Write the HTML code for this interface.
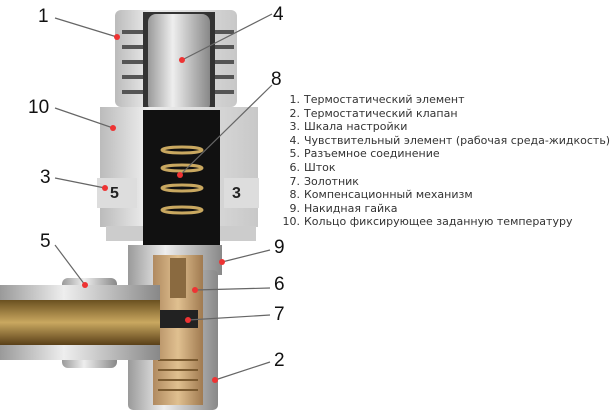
<!DOCTYPE html>
<html><head><meta charset="utf-8"><style>
body{margin:0;width:616px;height:410px;background:#fff;overflow:hidden;position:relative}
svg{position:absolute;left:0;top:0}
.lg{position:absolute;left:280px;top:93px;font:11px "DejaVu Sans",sans-serif;color:#333;line-height:13.6px;white-space:nowrap}
.lg span{display:inline-block;width:20px;text-align:right;margin-right:4px}
</style></head><body>
<svg width="616" height="410" viewBox="0 0 616 410">
<defs>
<linearGradient id="sil" x1="0" x2="1"><stop offset="0" stop-color="#9a9a9a"/><stop offset=".4" stop-color="#eee"/><stop offset="1" stop-color="#888"/></linearGradient>
<linearGradient id="wh" x1="0" x2="1"><stop offset="0" stop-color="#bbb"/><stop offset=".3" stop-color="#eee"/><stop offset="1" stop-color="#c8c8c8"/></linearGradient>
<linearGradient id="br" x1="0" y1="0" x2="0" y2="1"><stop offset="0" stop-color="#6a5020"/><stop offset=".5" stop-color="#c9a860"/><stop offset="1" stop-color="#5a4018"/></linearGradient>
<linearGradient id="br2" x1="0" x2="1"><stop offset="0" stop-color="#b08a60"/><stop offset=".5" stop-color="#e0c090"/><stop offset="1" stop-color="#a07a50"/></linearGradient>
</defs>
<!-- head -->
<rect x="115" y="10" width="122" height="97" rx="6" fill="url(#wh)"/>
<g fill="#555">
<rect x="122" y="30" width="22" height="4"/><rect x="122" y="45" width="22" height="4"/><rect x="122" y="60" width="22" height="4"/><rect x="122" y="75" width="22" height="4"/><rect x="122" y="90" width="22" height="4"/>
<rect x="212" y="30" width="22" height="4"/><rect x="212" y="45" width="22" height="4"/><rect x="212" y="60" width="22" height="4"/><rect x="212" y="75" width="22" height="4"/><rect x="212" y="90" width="22" height="4"/>
</g>
<rect x="143" y="12" width="72" height="98" fill="#333"/>
<rect x="148" y="14" width="62" height="98" rx="8" fill="url(#sil)"/>
<!-- lower body -->
<rect x="100" y="107" width="158" height="120" fill="url(#wh)"/>
<rect x="106" y="226" width="150" height="15" fill="#ccc"/>
<rect x="97" y="178" width="40" height="30" fill="#ddd"/>
<rect x="224" y="178" width="35" height="30" fill="#ddd"/>
<text x="110" y="198" font-family="Liberation Sans" font-weight="bold" font-size="16" fill="#222">5</text>
<text x="232" y="198" font-family="Liberation Sans" font-weight="bold" font-size="16" fill="#222">3</text>
<rect x="143" y="110" width="77" height="135" fill="#111"/>
<g fill="none" stroke="#c9a860" stroke-width="3"><ellipse cx="182" cy="150" rx="20" ry="3"/><ellipse cx="182" cy="168" rx="20" ry="3"/><ellipse cx="182" cy="188" rx="20" ry="3"/><ellipse cx="182" cy="210" rx="20" ry="3"/></g>
<!-- nut -->
<rect x="128" y="245" width="94" height="30" fill="url(#sil)"/>
<!-- valve body -->
<rect x="128" y="270" width="90" height="140" rx="5" fill="url(#sil)"/>
<rect x="153" y="255" width="50" height="150" fill="url(#br2)"/>
<rect x="170" y="258" width="16" height="40" fill="#8a6a40"/>
<rect x="158" y="310" width="40" height="18" fill="#222"/>
<g stroke="#7a5a30" stroke-width="2"><line x1="158" y1="360" x2="198" y2="360"/><line x1="158" y1="370" x2="198" y2="370"/><line x1="158" y1="380" x2="198" y2="380"/><line x1="158" y1="390" x2="198" y2="390"/></g>
<!-- pipe -->
<rect x="62" y="278" width="55" height="90" rx="6" fill="url(#sil)"/>
<rect x="0" y="285" width="160" height="15" fill="url(#sil)"/>
<rect x="0" y="345" width="160" height="15" fill="url(#sil)"/>
<rect x="0" y="300" width="160" height="45" fill="url(#br)"/>
<!-- leaders -->
<g stroke="#666" stroke-width="1.2">
<line x1="55" y1="18" x2="117" y2="37"/><line x1="272" y1="14" x2="182" y2="60"/>
<line x1="272" y1="85" x2="180" y2="175"/><line x1="55" y1="108" x2="113" y2="128"/>
<line x1="55" y1="178" x2="105" y2="188"/><line x1="55" y1="245" x2="85" y2="285"/>
<line x1="270" y1="250" x2="222" y2="262"/><line x1="270" y1="288" x2="195" y2="290"/>
<line x1="270" y1="315" x2="188" y2="320"/><line x1="270" y1="362" x2="215" y2="380"/>
</g>
<g fill="#e33"><circle cx="117" cy="37" r="3"/><circle cx="182" cy="60" r="3"/><circle cx="180" cy="175" r="3"/><circle cx="113" cy="128" r="3"/><circle cx="105" cy="188" r="3"/><circle cx="85" cy="285" r="3"/><circle cx="222" cy="262" r="3"/><circle cx="195" cy="290" r="3"/><circle cx="188" cy="320" r="3"/><circle cx="215" cy="380" r="3"/></g>
<g font-family="Liberation Sans" font-size="19" fill="#111">
<text x="38" y="22">1</text><text x="273" y="20">4</text><text x="271" y="85">8</text>
<text x="28" y="113">10</text><text x="40" y="183">3</text><text x="40" y="247">5</text>
<text x="274" y="253">9</text><text x="274" y="290">6</text><text x="274" y="320">7</text><text x="274" y="366">2</text>
</g>
</svg>
<div class="lg">
<div><span>1.</span>Термостатический элемент</div>
<div><span>2.</span>Термостатический клапан</div>
<div><span>3.</span>Шкала настройки</div>
<div><span>4.</span>Чувствительный элемент (рабочая среда-жидкость)</div>
<div><span>5.</span>Разъемное соединение</div>
<div><span>6.</span>Шток</div>
<div><span>7.</span>Золотник</div>
<div><span>8.</span>Компенсационный механизм</div>
<div><span>9.</span>Накидная гайка</div>
<div><span>10.</span>Кольцо фиксирующее заданную температуру</div>
</div>
</body></html>
